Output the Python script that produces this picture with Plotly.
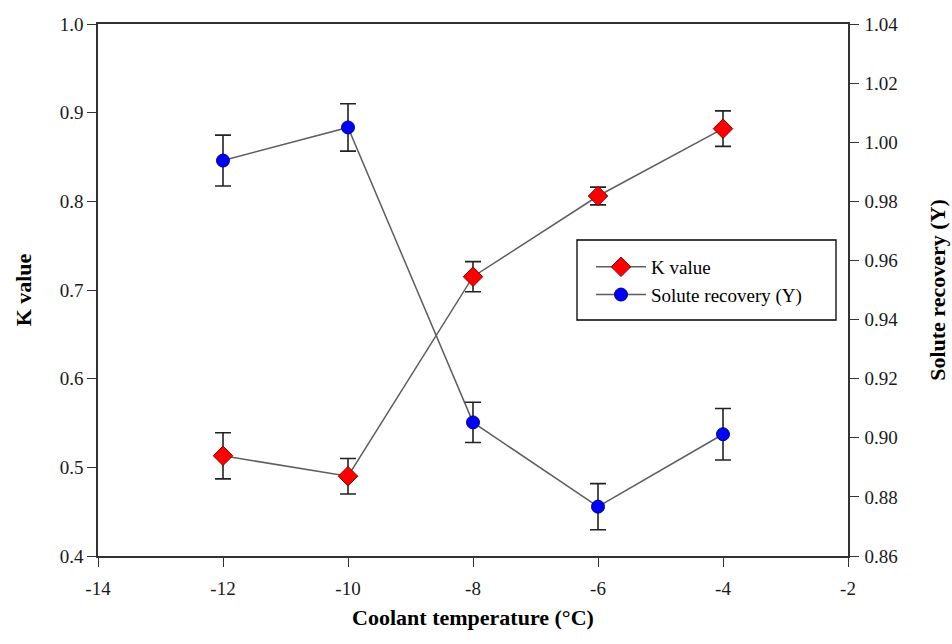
import plotly.graph_objects as go

temps = [-12, -10, -8, -6, -4]
k_value = [0.513, 0.490, 0.715, 0.806, 0.882]
k_err = [0.026, 0.020, 0.017, 0.010, 0.020]
recovery = [0.9938, 1.0050, 0.9052, 0.8767, 0.9012]
rec_err = [0.0086, 0.0080, 0.0068, 0.0078, 0.0087]
x_ticks = [-14, -12, -10, -8, -6, -4, -2]
x_ticktext = ["-14", "-12", "-10", "-8", "-6", "-4", "-2"]
y1_ticks = [0.4, 0.5, 0.6, 0.7, 0.8, 0.9, 1.0]
y1_ticktext = ["0.4", "0.5", "0.6", "0.7", "0.8", "0.9", "1.0"]
y2_ticks = [0.86, 0.88, 0.90, 0.92, 0.94, 0.96, 0.98, 1.00, 1.02, 1.04]
y2_ticktext = ["0.86", "0.88", "0.90", "0.92", "0.94", "0.96", "0.98", "1.00", "1.02", "1.04"]

FONT = "Liberation Serif"
W, H = 952, 644
L, R, T, B = 98, 104, 24, 88
pw, ph = W - L - R, H - T - B

fig = go.Figure()
fig.add_trace(go.Scatter(
    x=temps, y=k_value, name="K value", mode="lines+markers",
    line=dict(color="#5e5e5e", width=1.5),
    marker=dict(symbol="diamond", size=15, color="#ff0000", line=dict(color="#8b0000", width=1)),
    error_y=dict(type="data", array=k_err, color="#222222", thickness=1.6, width=8),
))
fig.add_trace(go.Scatter(
    x=temps, y=recovery, name="Solute recovery (Y)", mode="lines+markers", yaxis="y2",
    line=dict(color="#5e5e5e", width=1.5),
    marker=dict(symbol="circle", size=13, color="#0000ff", line=dict(color="#00008b", width=1)),
    error_y=dict(type="data", array=rec_err, color="#222222", thickness=1.6, width=8),
))

axfont = dict(family=FONT, size=19, color="#1a1a1a")
xtitlefont = dict(family=FONT, size=22, color="#000000")
ytitlefont = dict(family=FONT, size=22, color="#000000")

# legend frame (paper coords)
lx0, lx1, ly0, ly1 = 577, 836, 240, 320
fig.add_shape(type="rect", xref="paper", yref="paper",
              x0=(lx0 - L) / pw, x1=(lx1 - L) / pw,
              y0=1 - (ly1 - T) / ph, y1=1 - (ly0 - T) / ph,
              line=dict(color="#000000", width=1.3), fillcolor="rgba(0,0,0,0)")

fig.update_layout(
    width=W, height=H,
    margin=dict(l=L, r=R, t=T, b=B, autoexpand=False),
    paper_bgcolor="white", plot_bgcolor="white",
    font=dict(family=FONT, color="#000000"),
    showlegend=True,
    legend=dict(x=(lx0 - L + 14) / pw, y=1 - (ly0 - T + 8) / ph, xanchor="left", yanchor="top",
                bgcolor="rgba(0,0,0,0)", borderwidth=0,
                font=dict(family=FONT, size=19, color="#000000"),
                itemwidth=50, tracegroupgap=0),
    xaxis=dict(range=[-14, -2], tickvals=x_ticks, ticktext=x_ticktext,
               ticks="outside", ticklen=9, tickwidth=1.3, tickcolor="#333333",
               showline=True, linecolor="#333333", linewidth=1.5, mirror=True,
               showgrid=False, zeroline=False, tickfont=axfont, ticklabelstandoff=5,
               automargin=False,
               title=dict(text="<b>Coolant temperature (°C)</b>", font=xtitlefont, standoff=12)),
    yaxis=dict(range=[0.4, 1.0], tickvals=y1_ticks, ticktext=y1_ticktext,
               ticks="outside", ticklen=9, tickwidth=1.3, tickcolor="#333333",
               showline=True, linecolor="#333333", linewidth=1.5,
               showgrid=False, zeroline=False, tickfont=axfont, automargin=False,
               title=dict(text="<b>K value</b>", font=ytitlefont, standoff=22)),
    yaxis2=dict(range=[0.86, 1.04], overlaying="y", side="right",
                tickvals=y2_ticks, ticktext=y2_ticktext,
                ticks="outside", ticklen=9, tickwidth=1.3, tickcolor="#333333",
                showline=True, linecolor="#333333", linewidth=1.5,
                showgrid=False, zeroline=False, tickfont=axfont, ticklabelstandoff=2,
                automargin=False,
                title=dict(text="<b>Solute recovery (Y)</b>", font=ytitlefont, standoff=32)),
)

fig.write_html("out.html")
